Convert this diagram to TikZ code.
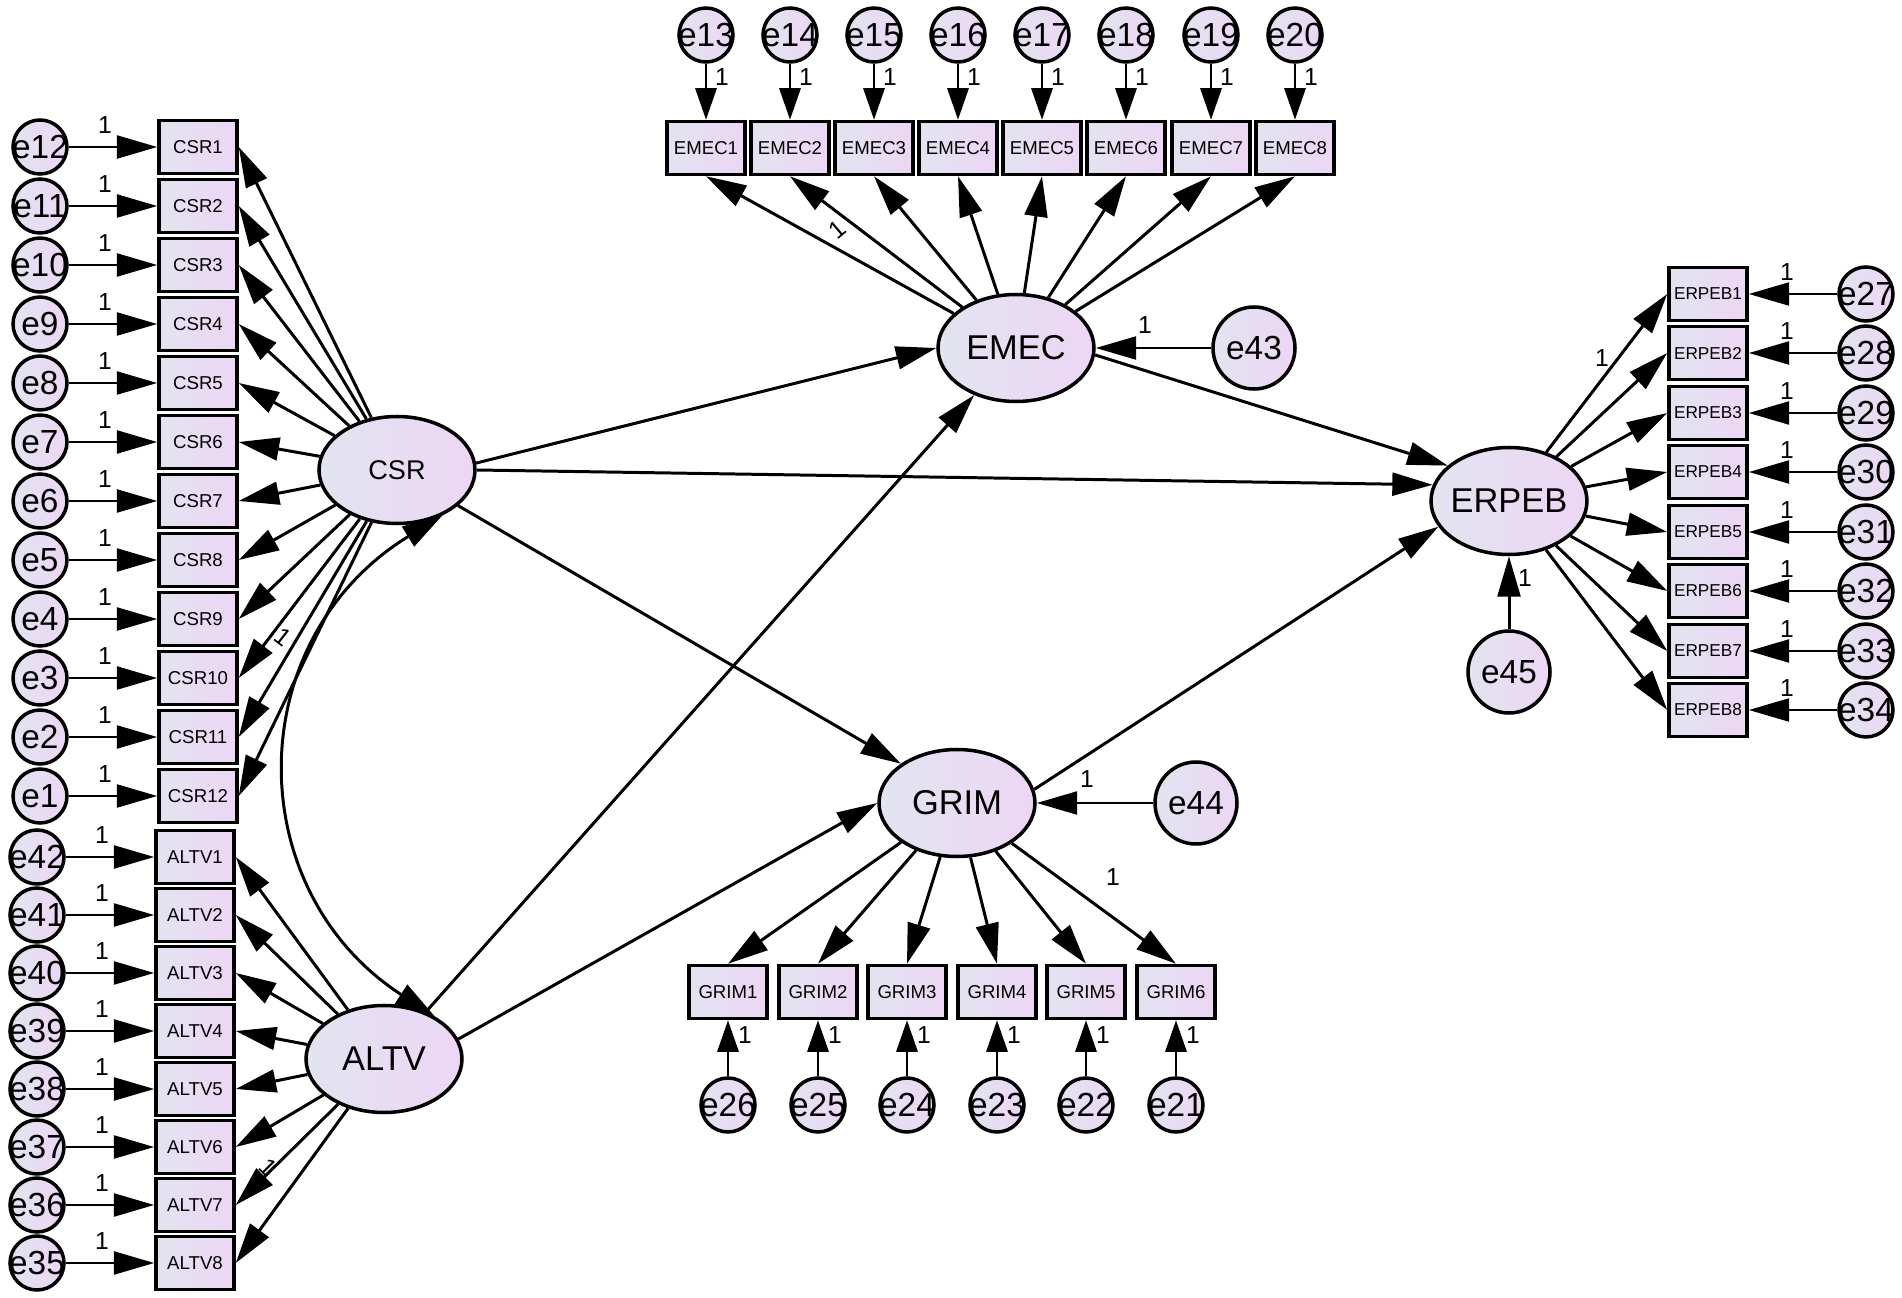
\documentclass[tikz,border=0pt]{standalone}
\usepackage{fontspec}
\setmainfont{Liberation Sans}
\usepackage{tikz}
\usetikzlibrary{arrows.meta}
\usetikzlibrary{shapes.geometric}
\definecolor{amosL}{RGB}{226,228,240}
\definecolor{amosR}{RGB}{237,214,245}
\tikzset{
  obs/.style={draw, line width=1pt, minimum width=7.8mm, minimum height=5.3mm, inner sep=0pt,
    left color=amosL, right color=amosR, font=\fontsize{5.3}{6}\selectfont},
  lat/.style={ellipse, draw, line width=1pt, minimum width=15.6mm, minimum height=10.7mm, inner sep=0pt,
    left color=amosL, right color=amosR, font=\fontsize{9.8}{11}\selectfont},
  err/.style={circle, draw, line width=1pt, minimum size=5.4mm, inner sep=0pt,
    left color=amosL, right color=amosR, font=\fontsize{9.5}{11}\selectfont},
  bigerr/.style={err, minimum size=8.2mm},
  arr/.style={line width=0.85pt, -{Triangle[length=11.5pt,width=6.5pt]}},
  sarr/.style={line width=0.85pt, -{Triangle[length=9pt,width=6pt]}},
  cov/.style={line width=0.85pt, {Triangle[length=11.5pt,width=6.5pt]}-{Triangle[length=11.5pt,width=6.5pt]}},
  one/.style={font=\fontsize{7}{8}\selectfont, inner sep=0pt}
}
% indicator on the left: latent, item, error, box x, y
\newcommand\lind[5]{
  \node[obs] (#2) at (#4,#5) {#2};
  \node[err] (#3) at (#4-158,#5) {\makebox[0pt]{#3}};
  \draw[arr] (#3) -- (#2);
  \draw[arr] (#1) -- (#2.east);
  \node[one] (one#3) at (#4-93,#5-22) {1};
}
% indicator on top: latent, item, error, x
\newcommand\tind[4]{
  \node[obs] (#2) at (#4,148) {#2};
  \node[err] (#3) at (#4,35) {\makebox[0pt]{#3}};
  \draw[sarr] (#3) -- (#2);
  \draw[arr] (#1) -- (#2.south);
  \node[one] (one#3) at (#4+16,77) {1};
}
% indicator at the bottom: latent, item, error, x
\newcommand\bind[4]{
  \node[obs] (#2) at (#4,992) {#2};
  \node[err] (#3) at (#4,1105) {\makebox[0pt]{#3}};
  \draw[sarr] (#3) -- (#2);
  \draw[arr] (#1) -- (#2.north);
  \node[one] (one#3) at (#4+17,1035) {1};
}
% indicator on the right: latent, item, error, y
\newcommand\rind[4]{
  \node[obs, font=\fontsize{4.9}{6}\selectfont] (#2) at (1708,#4) {#2};
  \node[err] (#3) at (1866,#4) {\makebox[0pt]{#3}};
  \draw[arr] (#3) -- (#2);
  \draw[arr] (#1) -- (#2.west);
  \node[one] (one#3) at (1787,#4-22) {1};
}

\begin{document}
\begin{tikzpicture}[x=0.1mm, y=-0.1mm]
\fill[white] (0,0) rectangle (1902,1298);
\useasboundingbox (0,0) rectangle (1902,1298);

% latent variables
\node[lat, font=\fontsize{7.7}{9}\selectfont] (CSR) at (397,470) {\makebox[0pt]{CSR}};
\node[lat] (ALTV) at (384,1059) {\makebox[0pt]{ALTV}};
\node[lat] (EMEC) at (1016,348) {\makebox[0pt]{EMEC}};
\node[lat] (GRIM) at (957,803) {\makebox[0pt]{GRIM}};
\node[lat] (ERPEB) at (1509,501) {\makebox[0pt]{ERPEB}};

\node[bigerr] (e43) at (1254,348) {e43};
\node[bigerr] (e44) at (1196,803) {e44};
\node[bigerr] (e45) at (1509,672) {e45};

\lind{CSR}{CSR1}{e12}{198}{147};
\lind{CSR}{CSR2}{e11}{198}{206};
\lind{CSR}{CSR3}{e10}{198}{265};
\lind{CSR}{CSR4}{e9}{198}{324};
\lind{CSR}{CSR5}{e8}{198}{383};
\lind{CSR}{CSR6}{e7}{198}{442};
\lind{CSR}{CSR7}{e6}{198}{501};
\lind{CSR}{CSR8}{e5}{198}{560};
\lind{CSR}{CSR9}{e4}{198}{619};
\lind{CSR}{CSR10}{e3}{198}{678};
\lind{CSR}{CSR11}{e2}{198}{737};
\lind{CSR}{CSR12}{e1}{198}{796};

\lind{ALTV}{ALTV1}{e42}{195}{857};
\lind{ALTV}{ALTV2}{e41}{195}{915};
\lind{ALTV}{ALTV3}{e40}{195}{973};
\lind{ALTV}{ALTV4}{e39}{195}{1031};
\lind{ALTV}{ALTV5}{e38}{195}{1089};
\lind{ALTV}{ALTV6}{e37}{195}{1147};
\lind{ALTV}{ALTV7}{e36}{195}{1205};
\lind{ALTV}{ALTV8}{e35}{195}{1263};

\tind{EMEC}{EMEC1}{e13}{706};
\tind{EMEC}{EMEC2}{e14}{790};
\tind{EMEC}{EMEC3}{e15}{874};
\tind{EMEC}{EMEC4}{e16}{958};
\tind{EMEC}{EMEC5}{e17}{1042};
\tind{EMEC}{EMEC6}{e18}{1126};
\tind{EMEC}{EMEC7}{e19}{1211};
\tind{EMEC}{EMEC8}{e20}{1295};

\bind{GRIM}{GRIM1}{e26}{728};
\bind{GRIM}{GRIM2}{e25}{818};
\bind{GRIM}{GRIM3}{e24}{907};
\bind{GRIM}{GRIM4}{e23}{997};
\bind{GRIM}{GRIM5}{e22}{1086};
\bind{GRIM}{GRIM6}{e21}{1176};

\rind{ERPEB}{ERPEB1}{e27}{294};
\rind{ERPEB}{ERPEB2}{e28}{353};
\rind{ERPEB}{ERPEB3}{e29}{413};
\rind{ERPEB}{ERPEB4}{e30}{472};
\rind{ERPEB}{ERPEB5}{e31}{532};
\rind{ERPEB}{ERPEB6}{e32}{591};
\rind{ERPEB}{ERPEB7}{e33}{651};
\rind{ERPEB}{ERPEB8}{e34}{710};

% structural paths
\draw[arr] (CSR.5) -- (EMEC.west);
\draw[arr] (CSR.east) -- (ERPEB.168);
\draw[arr] (CSR) -- (GRIM.145);
\draw[arr] (ALTV) -- (EMEC);
\draw[arr] (ALTV.15) -- (GRIM.west);
\draw[arr] (EMEC.-5) -- (ERPEB.150);
\draw[arr] (GRIM.10) -- (ERPEB.200);
\draw[cov] (CSR.-45) .. controls (240,640) and (240,890) .. (ALTV.40);

\draw[arr] (e43) -- (EMEC);
\draw[arr] (e44) -- (GRIM);
\draw[arr] (e45) -- (ERPEB);

\node[one, rotate=-38] (oneCSR) at (283,637) {1};
\node[one, rotate=-45] (oneALTV) at (268,1167) {1};
\node[one, rotate=40] (oneEMEC) at (837,230) {1};
\node[one] (oneGRIM) at (1113,877) {1};
\node[one] (oneERPEB) at (1602,358) {1};
\node[one] (onee43) at (1145,325) {1};
\node[one] (onee44) at (1087,779) {1};
\node[one] (onee45) at (1525,578) {1};

\end{tikzpicture}
\end{document}
